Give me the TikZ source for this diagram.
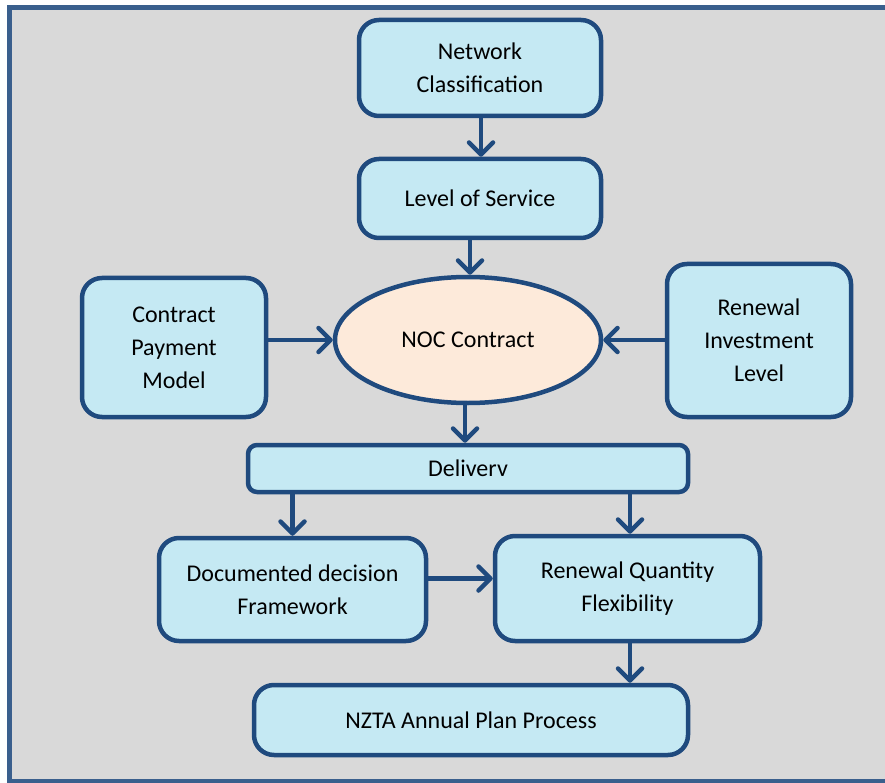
\documentclass[tikz,border=0pt]{standalone}
\usepackage{fontspec}
\setmainfont{Carlito}
\usetikzlibrary{arrows.meta,shapes.geometric,calc}
\definecolor{bgcol}{HTML}{D9D9D9}
\definecolor{framecol}{HTML}{3A5F8D}
\definecolor{edgecol}{HTML}{1F4A7E}
\definecolor{boxfill}{HTML}{C5E9F3}
\definecolor{ovalfill}{HTML}{FDEADA}
\tikzset{
  box/.style={draw=edgecol, fill=boxfill, line width=4.5pt, rounded corners=20pt,
    align=center, inner sep=0pt, font=\fontsize{24}{33}\selectfont},
  oval/.style={draw=edgecol, fill=ovalfill, line width=4.5pt, ellipse,
    inner sep=0pt, font=\fontsize{24}{33}\selectfont},
  arr/.style={draw=edgecol, line width=4.5pt,
    -{Straight Barb[length=12pt,width=24pt,round]}},
}
\begin{document}
\begin{tikzpicture}[x=1pt,y=-1pt]
\useasboundingbox (0,0) rectangle (885,783);
% panel
\fill[bgcol] (9.5,7.5) rectangle (885,781.5);
\draw[framecol, line width=5pt] (885,7.5) -- (9.5,7.5) -- (9.5,781.5) -- (885,781.5);

% nodes
\node[box, minimum width=242pt, minimum height=96pt] (nc) at (480,68) {Network\\Classification};
\node[box, minimum width=242pt, minimum height=79pt] (los) at (480,198.5) {Level of Service};
\node[box, minimum width=184pt, minimum height=139pt] (cpm) at (174,347.5) {Contract\\Payment\\Model};
\node[oval, minimum width=266pt, minimum height=126pt] (noc) at (468,340) {NOC Contract};
\node[box, minimum width=184pt, minimum height=153pt] (ril) at (759,340.5) {Renewal\\Investment\\Level};
\node[box, rounded corners=9pt, minimum width=440pt, minimum height=47pt] (del) at (468,468.5) {Deliverv};
\node[box, minimum width=267pt, minimum height=103pt] (ddf) at (292.5,589.5) {Documented decision\\Framework};
\node[box, minimum width=265pt, minimum height=105pt] (rqf) at (627.5,588.5) {Renewal Quantity\\Flexibility};
\node[box, minimum width=434pt, minimum height=70pt] (nzta) at (471,720) {NZTA Annual Plan Process};

% connectors
\draw[arr] (nc.south -| 481,0) -- (los.north -| 481,0);
\draw[arr] (los.south -| 470,0) -- (noc.north -| 470,0);
\draw[arr] (cpm.east |- noc) -- (noc.west);
\draw[arr] (ril.west |- noc) -- (noc.east);
\draw[arr] (noc.south -| 465,0) -- (del.north -| 465,0);
\draw[arr] (del.south -| ddf) -- (ddf.north);
\draw[arr] (del.south -| 630,0) -- (rqf.north -| 630,0);
\draw[arr] ($(ddf.east)+(0,-11)$) -- ($(ddf.east -| rqf.west)+(0,-11)$);
\draw[arr] (rqf.south -| 630,0) -- (nzta.north -| 630,0);
\end{tikzpicture}
\end{document}
